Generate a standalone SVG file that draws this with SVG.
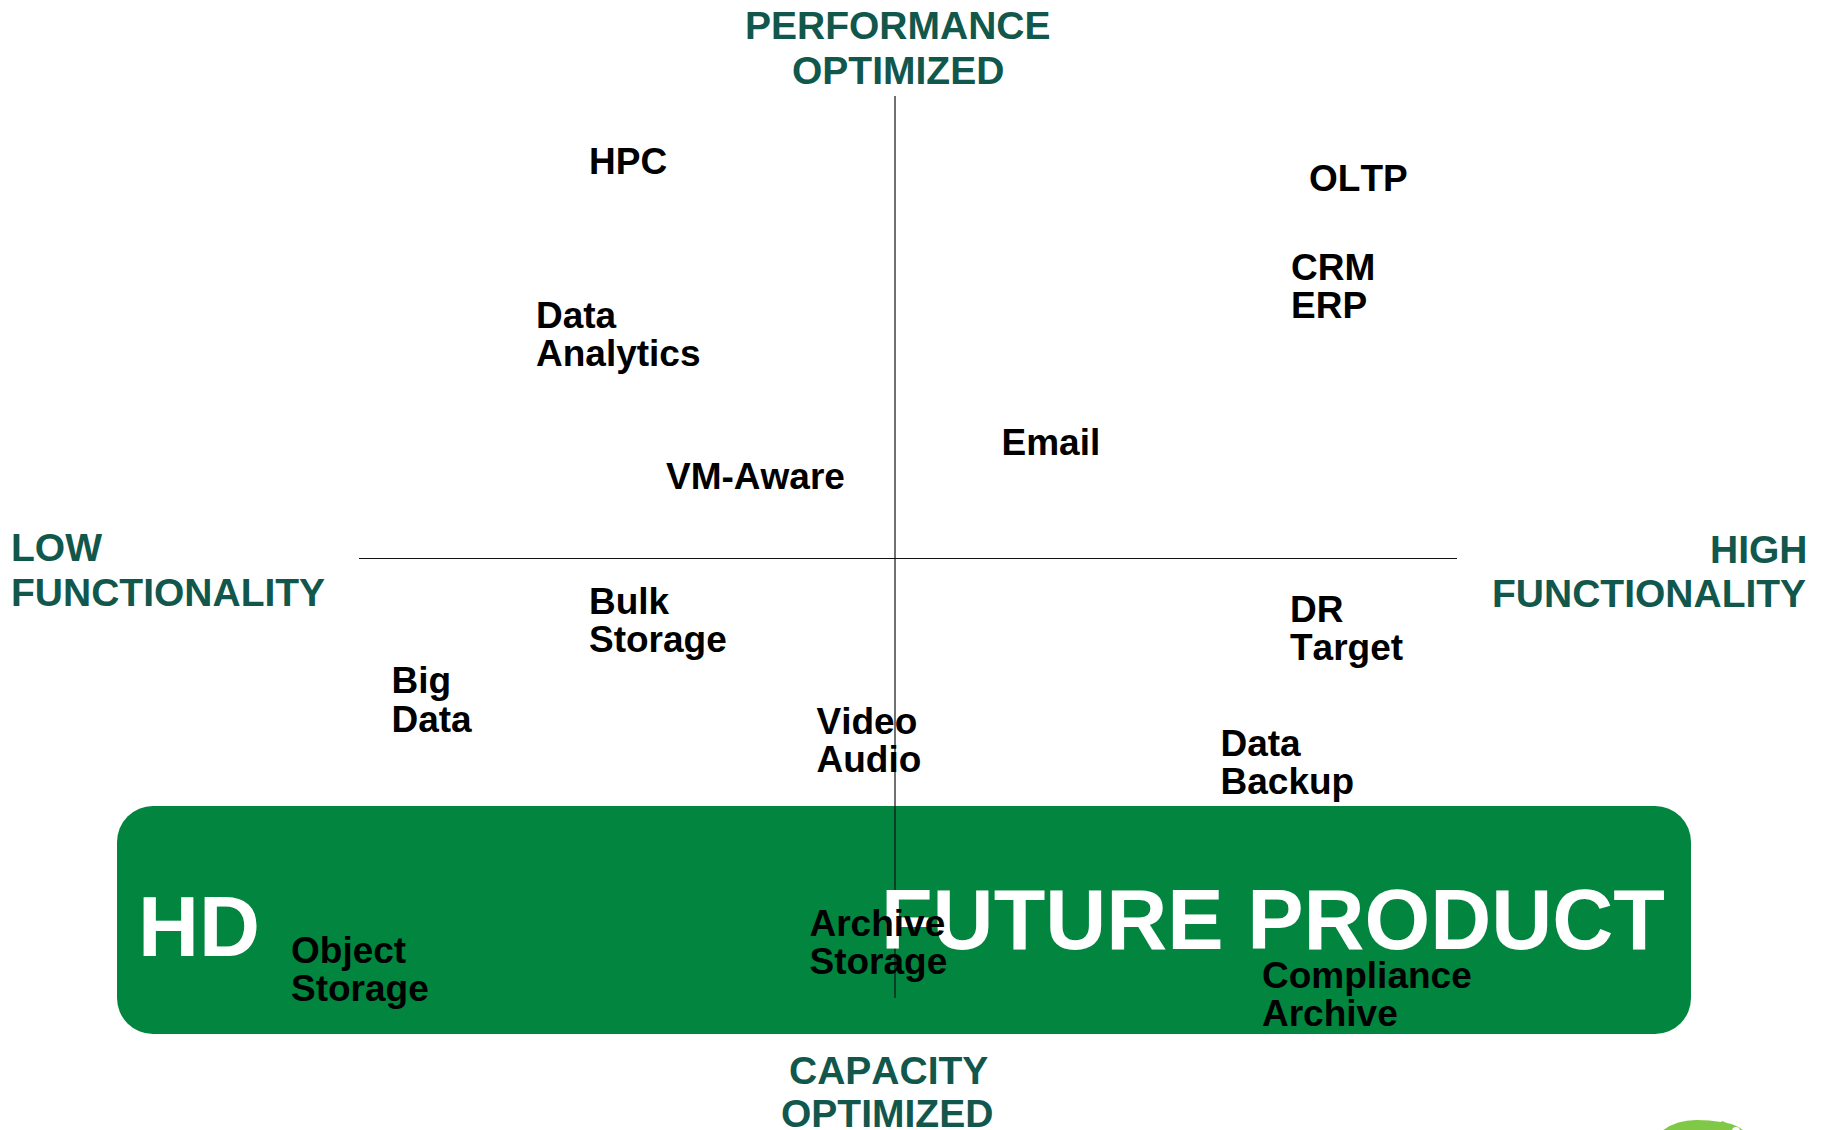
<svg xmlns="http://www.w3.org/2000/svg" width="1826" height="1130" viewBox="0 0 1826 1130">
<style>
text{font-family:"Liberation Sans",Arial,sans-serif;font-weight:700;font-kerning:none}
.a{font-size:39px;fill:#11574c}
.l{font-size:37px;fill:#000}
.big{font-size:84.5px;fill:#fff}
.ax{stroke:#111;stroke-width:1.2;fill:none}
</style>
<rect width="1826" height="1130" fill="#fff"/>
<g id="band"><rect x="117" y="806" width="1574" height="228" rx="36" fill="#02853e"/></g>
<g id="connectors"><path class="ax" d="M895 96V998"/><path class="ax" d="M359 558.500H1457"/></g>
<g id="hd"><text class="big" x="138" y="956">HD</text></g>
<g id="future"><text class="big" x="881" y="949">FUTURE PRODUCT</text></g>
<g id="top"><text class="a" x="745" y="39">PERFORMANCE</text><text class="a" x="792" y="84">OPTIMIZED</text></g>
<g id="bottom"><text class="a" x="789" y="1084">CAPACITY</text><text class="a" x="781" y="1127">OPTIMIZED</text></g>
<g id="low"><text class="a" x="11" y="561">LOW</text><text class="a" x="11" y="606">FUNCTIONALITY</text></g>
<g id="high"><text class="a" x="1710" y="563">HIGH</text><text class="a" x="1492" y="607">FUNCTIONALITY</text></g>
<g id="hpc"><text class="l" x="589" y="174">HPC</text></g>
<g id="oltp"><text class="l" x="1309" y="191">OLTP</text></g>
<g id="crm"><text class="l" x="1291" y="280">CRM</text><text class="l" x="1291" y="318">ERP</text></g>
<g id="analytics"><text class="l" x="536" y="328">Data</text><text class="l" x="536" y="366">Analytics</text></g>
<g id="email"><text class="l" x="1001.500" y="455">Email</text></g>
<g id="vm"><text class="l" x="666" y="489">VM-Aware</text></g>
<g id="bulk"><text class="l" x="589" y="614">Bulk</text><text class="l" x="589" y="652">Storage</text></g>
<g id="dr"><text class="l" x="1290" y="622">DR</text><text class="l" x="1290" y="660">Target</text></g>
<g id="bigdata"><text class="l" x="391.500" y="693">Big</text><text class="l" x="391.500" y="732">Data</text></g>
<g id="video"><text class="l" x="816.500" y="734">Video</text><text class="l" x="816.500" y="772">Audio</text></g>
<g id="backup"><text class="l" x="1220.500" y="756">Data</text><text class="l" x="1220.500" y="794">Backup</text></g>
<g id="object"><text class="l" x="291" y="963">Object</text><text class="l" x="291" y="1001">Storage</text></g>
<g id="archive"><text class="l" x="809.500" y="936">Archive</text><text class="l" x="809.500" y="974">Storage</text></g>
<g id="compliance"><text class="l" x="1262" y="988">Compliance</text><text class="l" x="1262" y="1026">Archive</text></g>
<g id="logo"><path d="M1662 1131Q1676 1120 1696 1120Q1710 1120 1721 1122L1722 1121L1727 1123Q1737 1125 1744 1131Z" fill="#80c848"/><circle cx="1736" cy="1131" r="4" fill="#fff" stroke="#80c848" stroke-width="0"/></g>
</svg>
